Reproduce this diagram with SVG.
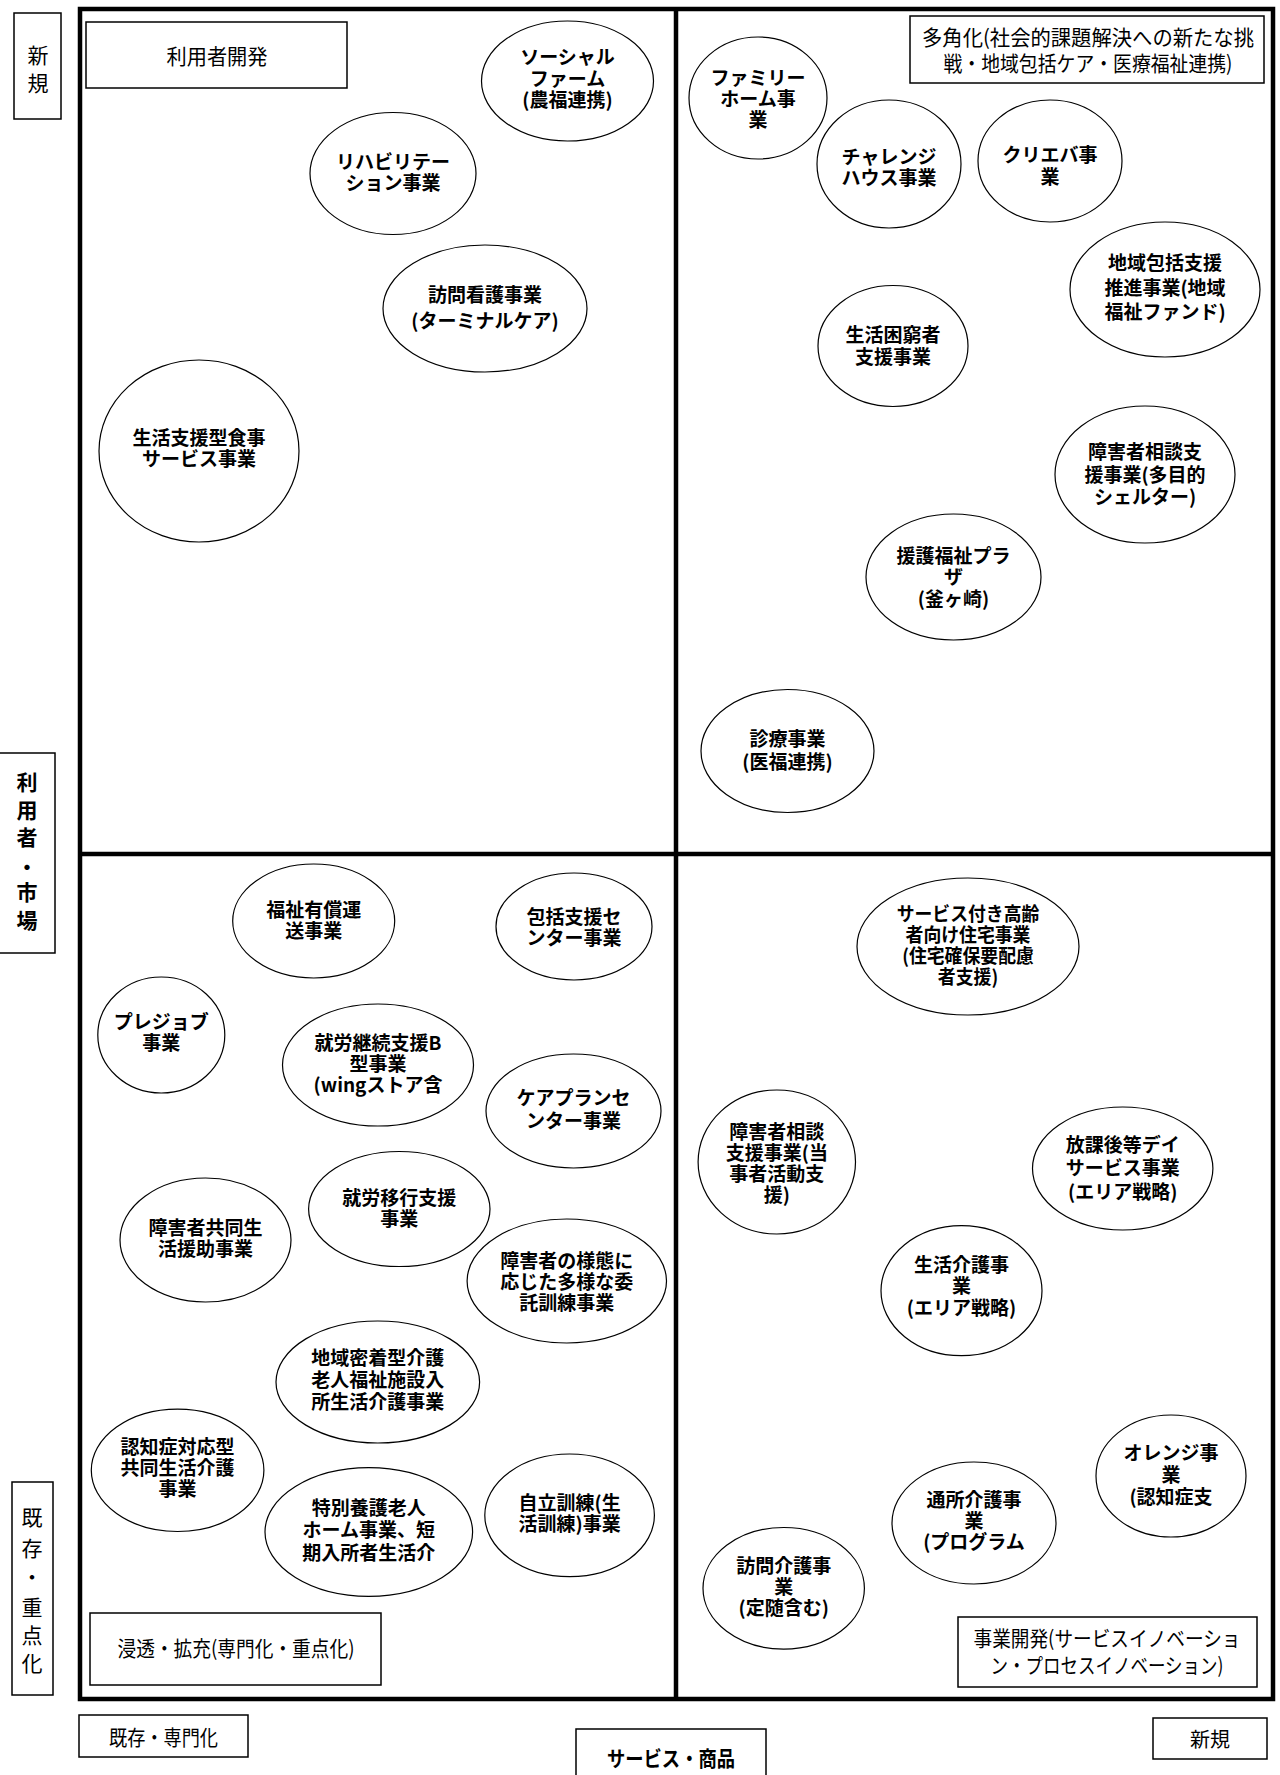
<svg xmlns="http://www.w3.org/2000/svg" width="1280" height="1775" viewBox="0 0 1280 1775">
<style>
.frame{fill:none;stroke:#000;stroke-width:4.5}
.div{stroke:#000;stroke-width:4.5}
.box{fill:#fff;stroke:#000;stroke-width:1.5}
.node{fill:#fff;stroke:#000;stroke-width:1.2}
.n{font-family:"Noto Sans CJK JP","Noto Sans CJK SC",sans-serif;font-weight:bold;font-size:19px;text-anchor:middle;fill:#000}
.l{font-family:"Noto Sans CJK JP","Noto Sans CJK SC",sans-serif;font-size:21px;text-anchor:middle;fill:#000}
.lb{font-family:"Noto Sans CJK JP","Noto Sans CJK SC",sans-serif;font-weight:bold;font-size:21px;text-anchor:middle;fill:#000}
</style>
<rect width="1280" height="1775" fill="#fff"/>
<g id="grid">
<rect class="frame" x="80" y="9" width="1193" height="1690"/>
<line class="div" x1="676" y1="9" x2="676" y2="1699"/>
<line class="div" x1="80" y1="854" x2="1273" y2="854"/>
</g>
<g id="connectors"></g>
<g id="axis-labels">
<g id="ax-new-top"><rect class="box" x="14" y="13" width="47" height="106"/>
<text class="l" x="38" y="63">新</text><text class="l" x="38" y="91">規</text></g>
<g id="ax-market"><rect class="box" x="-2" y="753" width="57" height="200"/>
<text class="lb" x="27" y="790">利</text><text class="lb" x="27" y="818">用</text><text class="lb" x="27" y="845">者</text><text class="lb" x="27" y="875">・</text><text class="lb" x="27" y="900">市</text><text class="lb" x="27" y="928">場</text></g>
<g id="ax-existing"><rect class="box" x="12" y="1482" width="41" height="213"/>
<text class="l" x="32" y="1525">既</text><text class="l" x="32" y="1556">存</text><text class="l" x="32" y="1585">・</text><text class="l" x="32" y="1615">重</text><text class="l" x="32" y="1643">点</text><text class="l" x="32" y="1671">化</text></g>
<g id="ax-specialized"><rect class="box" x="79" y="1715" width="169" height="42"/>
<text class="l" x="163.5" y="1745" textLength="109" lengthAdjust="spacingAndGlyphs">既存・専門化</text></g>
<g id="ax-service"><rect class="box" x="576" y="1729" width="190" height="70"/>
<text class="lb" x="671" y="1766" textLength="128" lengthAdjust="spacingAndGlyphs">サービス・商品</text></g>
<g id="ax-new-bottom"><rect class="box" x="1153" y="1718" width="114" height="41"/>
<text class="l" x="1210" y="1747" style="font-size:20px">新規</text></g>
</g>
<g id="quadrant-labels">
<g id="q-user"><rect class="box" x="86" y="22" width="261" height="66"/>
<text class="l" x="217" y="64" textLength="101" lengthAdjust="spacingAndGlyphs">利用者開発</text></g>
<g id="q-diversify"><rect class="box" x="910" y="16" width="354" height="67"/>
<text class="l" x="1088" y="45" textLength="332" lengthAdjust="spacingAndGlyphs">多角化(社会的課題解決への新たな挑</text>
<text class="l" x="1088" y="71" textLength="289" lengthAdjust="spacingAndGlyphs">戦・地域包括ケア・医療福祉連携)</text></g>
<g id="q-penetrate"><rect class="box" x="90" y="1613" width="291" height="72"/>
<text class="l" x="236" y="1656" textLength="237" lengthAdjust="spacingAndGlyphs">浸透・拡充(専門化・重点化)</text></g>
<g id="q-business"><rect class="box" x="958" y="1617" width="299" height="70"/>
<text class="l" x="1107" y="1646" textLength="267" lengthAdjust="spacingAndGlyphs">事業開発(サービスイノベーショ</text>
<text class="l" x="1107" y="1673" textLength="233" lengthAdjust="spacingAndGlyphs">ン・プロセスイノベーション)</text></g>
</g>
<g id="nodes">
<g id="n1"><ellipse class="node" cx="567.5" cy="81" rx="86" ry="60"/><text class="n"><tspan x="567.5" y="64">ソーシャル</tspan><tspan x="567.5" y="86">ファーム</tspan><tspan x="567.5" y="107">(農福連携)</tspan></text></g>
<g id="n2"><ellipse class="node" cx="393" cy="173.5" rx="83" ry="61"/><text class="n"><tspan x="393" y="169">リハビリテー</tspan><tspan x="393" y="190">ション事業</tspan></text></g>
<g id="n3"><ellipse class="node" cx="485" cy="308.5" rx="102" ry="63.5"/><text class="n"><tspan x="485" y="302">訪問看護事業</tspan><tspan x="485" y="328">(ターミナルケア)</tspan></text></g>
<g id="n4"><ellipse class="node" cx="199" cy="451" rx="100" ry="91"/><text class="n"><tspan x="199" y="445">生活支援型食事</tspan><tspan x="199" y="466">サービス事業</tspan></text></g>
<g id="n5"><ellipse class="node" cx="758" cy="98" rx="69" ry="61"/><text class="n"><tspan x="758" y="85">ファミリー</tspan><tspan x="758" y="106">ホーム事</tspan><tspan x="758" y="127">業</tspan></text></g>
<g id="n6"><ellipse class="node" cx="889" cy="164" rx="72" ry="64"/><text class="n"><tspan x="889" y="164">チャレンジ</tspan><tspan x="889" y="185">ハウス事業</tspan></text></g>
<g id="n7"><ellipse class="node" cx="1050" cy="161" rx="72" ry="61"/><text class="n"><tspan x="1050" y="162">クリエバ事</tspan><tspan x="1050" y="184">業</tspan></text></g>
<g id="n8"><ellipse class="node" cx="1165" cy="289.5" rx="95" ry="67.5"/><text class="n"><tspan x="1165" y="270">地域包括支援</tspan><tspan x="1165" y="295">推進事業(地域</tspan><tspan x="1165" y="319">福祉ファンド)</tspan></text></g>
<g id="n9"><ellipse class="node" cx="893" cy="346" rx="75" ry="60.5"/><text class="n"><tspan x="893" y="342">生活困窮者</tspan><tspan x="893" y="364">支援事業</tspan></text></g>
<g id="n10"><ellipse class="node" cx="1145" cy="474.5" rx="90" ry="68.5"/><text class="n"><tspan x="1145" y="459">障害者相談支</tspan><tspan x="1145" y="482">援事業(多目的</tspan><tspan x="1145" y="504">シェルター)</tspan></text></g>
<g id="n11"><ellipse class="node" cx="953.5" cy="577" rx="87.5" ry="63"/><text class="n"><tspan x="953.5" y="563">援護福祉プラ</tspan><tspan x="953.5" y="584">ザ</tspan><tspan x="953.5" y="606">(釜ヶ崎)</tspan></text></g>
<g id="n12"><ellipse class="node" cx="787.5" cy="751" rx="86.5" ry="61.5"/><text class="n"><tspan x="787.5" y="746">診療事業</tspan><tspan x="787.5" y="769">(医福連携)</tspan></text></g>
<g id="n13"><ellipse class="node" cx="313.7" cy="921" rx="81" ry="57"/><text class="n"><tspan x="313.7" y="917">福祉有償運</tspan><tspan x="313.7" y="938">送事業</tspan></text></g>
<g id="n14"><ellipse class="node" cx="574" cy="926.5" rx="78" ry="53.5"/><text class="n"><tspan x="574" y="924">包括支援セ</tspan><tspan x="574" y="945">ンター事業</tspan></text></g>
<g id="n15"><ellipse class="node" cx="161.3" cy="1035" rx="63.5" ry="58"/><text class="n"><tspan x="161.3" y="1029">プレジョブ</tspan><tspan x="161.3" y="1050">事業</tspan></text></g>
<g id="n16"><ellipse class="node" cx="378" cy="1065" rx="95.5" ry="61"/><text class="n"><tspan x="378" y="1050">就労継続支援B</tspan><tspan x="378" y="1071">型事業</tspan><tspan x="378" y="1092">(wingストア含</tspan></text></g>
<g id="n17"><ellipse class="node" cx="573.5" cy="1111" rx="87.5" ry="57"/><text class="n"><tspan x="573.5" y="1105">ケアプランセ</tspan><tspan x="573.5" y="1128">ンター事業</tspan></text></g>
<g id="n18"><ellipse class="node" cx="399.3" cy="1209" rx="90.7" ry="57.5"/><text class="n"><tspan x="399.3" y="1205">就労移行支援</tspan><tspan x="399.3" y="1226">事業</tspan></text></g>
<g id="n19"><ellipse class="node" cx="205.5" cy="1240" rx="85.5" ry="62"/><text class="n"><tspan x="205.5" y="1235">障害者共同生</tspan><tspan x="205.5" y="1256">活援助事業</tspan></text></g>
<g id="n20"><ellipse class="node" cx="566.8" cy="1281" rx="99.7" ry="62"/><text class="n"><tspan x="566.8" y="1268">障害者の様態に</tspan><tspan x="566.8" y="1289">応じた多様な委</tspan><tspan x="566.8" y="1310">託訓練事業</tspan></text></g>
<g id="n21"><ellipse class="node" cx="377.8" cy="1382" rx="101.8" ry="61"/><text class="n"><tspan x="377.8" y="1365">地域密着型介護</tspan><tspan x="377.8" y="1387">老人福祉施設入</tspan><tspan x="377.8" y="1409">所生活介護事業</tspan></text></g>
<g id="n22"><ellipse class="node" cx="177.6" cy="1470.3" rx="86.3" ry="61.2"/><text class="n"><tspan x="177.6" y="1454">認知症対応型</tspan><tspan x="177.6" y="1475">共同生活介護</tspan><tspan x="177.6" y="1496">事業</tspan></text></g>
<g id="n23"><ellipse class="node" cx="368.8" cy="1532" rx="103.8" ry="64.3"/><text class="n"><tspan x="368.8" y="1515">特別養護老人</tspan><tspan x="368.8" y="1537">ホーム事業、短</tspan><tspan x="368.8" y="1560">期入所者生活介</tspan></text></g>
<g id="n24"><ellipse class="node" cx="569.6" cy="1515.3" rx="84.8" ry="61.3"/><text class="n"><tspan x="569.6" y="1510">自立訓練(生</tspan><tspan x="569.6" y="1531">活訓練)事業</tspan></text></g>
<g id="n25"><ellipse class="node" cx="968" cy="946.5" rx="111" ry="68.5"/><text class="n" transform="translate(968,0) scale(0.94,1)"><tspan x="0" y="921">サービス付き高齢</tspan><tspan x="0" y="942">者向け住宅事業</tspan><tspan x="0" y="963">(住宅確保要配慮</tspan><tspan x="0" y="984">者支援)</tspan></text></g>
<g id="n26"><ellipse class="node" cx="776.8" cy="1162" rx="78.7" ry="72"/><text class="n"><tspan x="776.8" y="1139">障害者相談</tspan><tspan x="776.8" y="1160">支援事業(当</tspan><tspan x="776.8" y="1181">事者活動支</tspan><tspan x="776.8" y="1202">援)</tspan></text></g>
<g id="n27"><ellipse class="node" cx="1122.7" cy="1168.5" rx="90.2" ry="61.5"/><text class="n"><tspan x="1122.7" y="1152">放課後等デイ</tspan><tspan x="1122.7" y="1175">サービス事業</tspan><tspan x="1122.7" y="1199">(エリア戦略)</tspan></text></g>
<g id="n28"><ellipse class="node" cx="961.5" cy="1290.7" rx="80.5" ry="65"/><text class="n"><tspan x="961.5" y="1272">生活介護事</tspan><tspan x="961.5" y="1293">業</tspan><tspan x="961.5" y="1315">(エリア戦略)</tspan></text></g>
<g id="n29"><ellipse class="node" cx="1171" cy="1476" rx="75" ry="61"/><text class="n"><tspan x="1171" y="1460">オレンジ事</tspan><tspan x="1171" y="1482">業</tspan><tspan x="1171" y="1504">(認知症支</tspan></text></g>
<g id="n30"><ellipse class="node" cx="974" cy="1523" rx="82" ry="61"/><text class="n"><tspan x="974" y="1507">通所介護事</tspan><tspan x="974" y="1528">業</tspan><tspan x="974" y="1549">(プログラム</tspan></text></g>
<g id="n31"><ellipse class="node" cx="783.7" cy="1588.3" rx="80.7" ry="60.8"/><text class="n"><tspan x="783.7" y="1573">訪問介護事</tspan><tspan x="783.7" y="1594">業</tspan><tspan x="783.7" y="1615">(定随含む)</tspan></text></g>
</g>
</svg>
